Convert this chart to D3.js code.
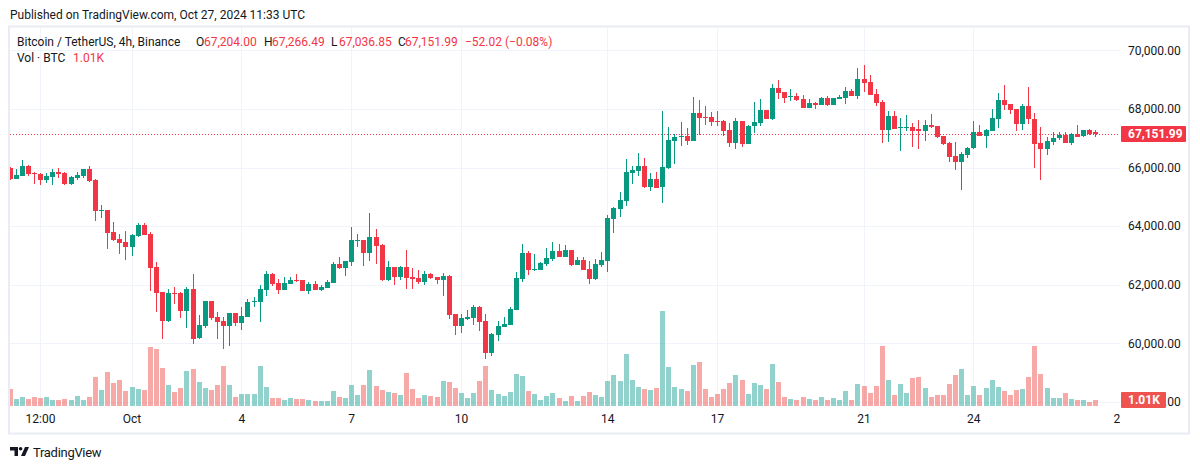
<!DOCTYPE html>
<html><head><meta charset="utf-8">
<script src="https://cdn.jsdelivr.net/npm/d3@7"></script>
<style>
html,body{margin:0;padding:0;background:#fff;}
svg{display:block;font-family:Roboto,"Noto Sans",sans-serif;}
</style></head><body>
<svg id="c" width="1200" height="469"></svg>
<script>
// ---- data (4h candles, BTC/USDT Binance) ----
const startTime = "2024-09-27T16:00:00Z";
const opens = [65983,65618,65720,66051,65812,65780,65584,65686,65846,65812,65447,65652,65720,65949,65584,64526,64549,63800,63560,63457,
63297,63672,64037,63730,62604,61750,60772,61728,61717,61113,61864,60170,60601,61454,60897,60760,60600,61034,60703,60908,
61420,61420,61830,62366,62058,61830,62035,62160,62160,61796,62024,61830,61897,62070,62710,62580,62785,63510,63526,63092,
63628,63365,62160,62604,62263,62604,62263,62228,62092,62366,62263,62160,62300,61000,60600,60840,60874,61250,60772,59680,
60300,60570,60640,61150,62200,63080,62500,62510,62720,62890,63150,62960,63190,62680,62840,62550,62200,62680,62820,64250,
64590,64870,65820,65890,66050,65340,65600,65340,65980,66920,67040,67075,66920,67860,67740,67740,67600,67600,67290,66850,
67590,66810,67400,67530,67960,67640,68710,68570,68400,68440,68340,68040,68200,68140,68370,68140,68340,68380,68610,68450,
69020,68920,68500,68230,67290,67760,67360,67360,67380,67300,67260,67450,67420,67080,66850,66390,66200,66440,66650,67210,
67090,67260,67660,68300,68170,68000,67500,68100,67650,66850,66640,66880,66990,67110,66850,67140,67080,67280,67204.00];
const highs = [66020,65949,66256,66100,65830,65812,65800,65950,65983,65830,65710,65846,65960,66051,65618,64731,64560,64140,63730,63833,
63730,64106,64106,63800,62775,61760,61864,61920,61750,61920,62380,60966,61460,61460,61068,60897,61040,61040,61239,61510,
61580,61990,62468,62400,62195,62263,62263,62366,62170,62092,62126,61990,62160,62780,62945,62810,63970,63730,63540,64450,
63900,63400,62810,62620,62650,63184,62570,62510,62468,62400,62270,62400,62330,61010,61010,61136,61300,61270,61010,60340,
60770,60910,61250,62440,63390,63150,63050,62770,63250,63460,63390,63360,63200,62960,62960,62810,62880,63120,64380,64650,
65160,66290,66050,66500,66320,65810,65850,67930,67380,67140,67550,67350,68400,68300,68100,67900,67930,67610,67530,67690,
67600,67450,68240,68340,67970,68850,69000,68580,68680,68540,68470,68340,68240,68410,68440,68380,68470,68750,68680,69400,
69500,69160,68680,68300,67930,67930,67690,67790,67520,67620,67620,67830,67430,67090,66860,66880,66540,66710,67590,67450,
67310,68000,68540,68810,68180,68010,68170,68750,67860,67380,67050,67210,67210,67210,67180,67450,67290,67310,67266.49];
const lows = [65590,65600,65720,65720,65450,65413,65480,65413,65652,65413,65413,65584,65652,65515,64185,64290,63219,63500,63060,62853,
62990,63640,63690,61796,61080,60160,60738,61350,60874,60533,59986,60135,60533,60806,60135,59816,59918,60600,60465,60900,
61250,60738,61625,61966,61694,61830,62035,62100,61790,61694,61820,61796,61890,62060,62545,62300,62650,63300,62650,62820,
62720,62140,62140,62000,62160,61853,61853,62035,61990,62195,62035,61625,60840,60300,60360,60800,60624,60430,59454,59577,
60090,60560,60630,61140,62100,62340,62480,62500,62650,62820,62950,62950,62650,62670,62500,62035,62170,62620,62440,63780,
64320,64670,65450,65720,65310,65210,65300,64800,65950,66130,66750,66780,66900,67120,67460,67430,67400,67090,66710,66640,
66710,66800,67190,67430,67640,67630,68340,68200,68270,68280,68030,68030,67990,68120,68110,68130,68330,68180,68440,68350,
68580,68470,68110,66850,66880,67300,66570,67260,66710,66640,66920,67350,67020,66780,66200,65925,65240,66340,66640,67070,
66680,67250,67360,67970,67840,67260,67290,67500,65990,65580,66440,66780,66950,66840,66780,67040,67050,67120,67036.85];
const closes = [65618,65744,66051,65790,65780,65584,65710,65846,65790,65447,65675,65755,65949,65550,64526,64549,63776,63536,63433,63297,
63696,64037,63706,62580,61728,60772,61717,61694,61113,61864,60157,60624,61454,60874,60738,60600,61034,60703,60931,61410,
61454,61853,62366,62035,61830,62058,62160,62126,61796,62024,61830,61922,62092,62710,62570,62800,63526,63526,63092,63628,
63330,62160,62604,62263,62604,62228,62195,62092,62366,62228,62160,62300,60980,60600,60870,60900,61250,60738,59680,60330,
60600,60670,61180,62230,63080,62510,62530,62740,62910,63150,62960,63190,62680,62840,62510,62200,62700,62840,64280,64620,
64890,65850,65910,66050,65340,65600,65310,66020,66940,67040,67075,66920,67860,67700,67700,67560,67560,67260,66850,67590,
66810,67420,67550,67960,67670,68710,68540,68370,68440,68300,68040,68200,68140,68370,68140,68370,68400,68610,68450,69020,
68880,68480,68210,67290,67760,67320,67390,67390,67260,67260,67450,67380,67050,66810,66370,66200,66460,66680,67210,67090,
67280,67690,68300,68130,67970,67500,68100,67650,66810,66640,66910,67010,67110,66850,67140,67050,67280,67160,67151.99];
const volumes = [2860,1180,1510,1180,1510,1340,1510,1010,1010,1180,1010,1680,1010,1510,4870,2690,5710,3860,4370,2520,
3190,2860,2690,9910,9580,6380,3530,2350,3020,5880,6220,4030,3020,2690,3530,6720,3530,1510,2020,2020,
2020,6720,3190,1340,1340,1010,1340,1180,1180,1010,840,840,840,2520,1510,1340,3530,1850,3530,6050,
3360,2690,2350,2180,1850,5540,2860,1340,1850,1680,1510,4200,4030,3020,2180,1340,2180,4200,6720,2690,
2020,1680,2350,5380,5040,2520,2020,1010,1680,2180,1340,840,1680,840,1680,2350,1850,1510,4200,5210,
4200,8740,4370,3190,2860,2690,3020,15960,6550,3190,2860,2520,6890,7390,2860,1510,2020,2860,3860,5210,
4370,2020,3860,3530,2860,7060,4030,1510,1180,1010,1510,1180,1010,1510,1010,1340,1010,2520,1010,3700,
3360,2180,3360,10080,4370,1850,3700,2180,4700,4870,3020,1510,1850,1850,3700,5210,6220,1850,3360,1850,
3020,4370,3190,2520,1850,2690,2860,4870,10080,5380,3020,1340,1340,2180,1180,1010,1010,670,1010];
const priceTicks = [58000,60000,62000,64000,66000,68000,70000];
const timeTickDates = ["2024-09-28T12:00:00Z","2024-10-01T00:00:00Z","2024-10-04T00:00:00Z","2024-10-07T00:00:00Z","2024-10-10T00:00:00Z","2024-10-14T00:00:00Z","2024-10-17T00:00:00Z","2024-10-21T00:00:00Z","2024-10-24T00:00:00Z","2024-10-28T00:00:00Z"];
const timeTickLabels = ["12:00","Oct","4","7","10","14","17","21","24","28"];
const lastPrice = 67151.99;
const lastVolumeLabel = "1.01K";
const legendTitle = "Bitcoin / TetherUS, 4h, Binance";
const legendOHLC = [["O","67,204.00"],["H","67,266.49"],["L","67,036.85"],["C","67,151.99"]];
const legendChange = "\u221252.02 (\u22120.08%)";

// ---- drawing ----
const UP = "#089981", DOWN = "#F23645";
const VUP = "rgba(38,166,154,0.5)", VDOWN = "rgba(239,83,80,0.5)";
const TXT = "#131722", GRID = "#f0f3fa";
const svg = d3.select("#c");
const PL = 10, PR = 1120, PT = 27, PB = 407;

const t0 = new Date(startTime);
const H4 = 4 * 3600 * 1000;
const data = opens.map((o, i) => ({t: new Date(+t0 + i * H4), o, h: highs[i], l: lows[i], c: closes[i], v: volumes[i]}));

const x = d3.scaleUtc().domain([t0, new Date("2024-10-28T00:00:00Z")]).range([9.5, 1119.7]);
const y = d3.scaleLinear().domain([60000, 70000]).range([343.3, 50.3]);
const yv = d3.scaleLinear().domain([0, 16000]).range([406, 311]);

// frame
svg.append("rect").attr("x", 9).attr("y", 26.5).attr("width", 1180).attr("height", 407)
  .attr("fill", "none").attr("stroke", "#e9ecf2").attr("stroke-width", 2);

const defs = svg.append("defs");
defs.append("clipPath").attr("id", "plot")
  .append("rect").attr("x", PL).attr("y", PT).attr("width", PR - PL).attr("height", PB - PT);
defs.append("clipPath").attr("id", "taxis")
  .append("rect").attr("x", PL).attr("y", PB).attr("width", PR - PL).attr("height", 26);

const tickDates = timeTickDates.map(d => new Date(d));

// grid
const grid = svg.append("g").attr("clip-path", "url(#plot)");
grid.append("g").attr("transform", `translate(${PR},0)`)
  .call(d3.axisLeft(y).tickValues(priceTicks).tickSize(PR - PL).tickFormat(""))
  .call(g => g.select(".domain").remove())
  .call(g => g.selectAll("line").attr("stroke", GRID).attr("shape-rendering", "crispEdges"));
grid.append("g").attr("transform", `translate(0,${PB})`)
  .call(d3.axisTop(x).tickValues(tickDates).tickSize(PB - PT).tickFormat(""))
  .call(g => g.select(".domain").remove())
  .call(g => g.selectAll("line").attr("stroke", GRID).attr("shape-rendering", "crispEdges"));

const plot = svg.append("g").attr("clip-path", "url(#plot)");

// volume
plot.append("g").selectAll("rect").data(data).join("rect")
  .attr("x", d => Math.round(x(d.t)) - 2)
  .attr("width", 5)
  .attr("y", d => Math.round(yv(d.v)))
  .attr("height", d => 406 - Math.round(yv(d.v)))
  .attr("fill", d => d.c >= d.o ? VUP : VDOWN);

// last price dotted line
plot.append("line").attr("x1", PL).attr("x2", PR)
  .attr("y1", Math.round(y(lastPrice)) + 0.5).attr("y2", Math.round(y(lastPrice)) + 0.5)
  .attr("stroke", DOWN).attr("stroke-dasharray", "1,2");

// candles
const cg = plot.append("g").attr("shape-rendering", "crispEdges");
cg.selectAll("rect.w").data(data).join("rect").attr("class", "w")
  .attr("x", d => Math.round(x(d.t)))
  .attr("width", 1)
  .attr("y", d => y(d.h))
  .attr("height", d => Math.max(1, y(d.l) - y(d.h)))
  .attr("fill", d => d.c >= d.o ? UP : DOWN);
cg.selectAll("rect.b").data(data).join("rect").attr("class", "b")
  .attr("x", d => Math.round(x(d.t)) - 2)
  .attr("width", 5)
  .attr("y", d => Math.round(y(Math.max(d.o, d.c))))
  .attr("height", d => Math.max(1, Math.round(y(Math.min(d.o, d.c))) - Math.round(y(Math.max(d.o, d.c)))))
  .attr("fill", d => d.c >= d.o ? UP : DOWN);

// price axis
const fmt = d3.format(",.2f");
const vy = Math.round(yv(volumes[volumes.length - 1]));
const pax = svg.append("g").attr("transform", `translate(1122,0)`)
  .call(d3.axisRight(y).tickValues(priceTicks).tickSize(0).tickPadding(6).tickFormat(fmt))
  .call(g => g.select(".domain").remove())
  .call(g => g.selectAll("text").attr("fill", TXT).attr("font-size", 12).attr("font-family", "Roboto"));
// the lowest tick label sits under the volume label: only its tail is visible
pax.selectAll(".tick text").filter(d => d === 58000).each(function () {
  const full = fmt(58000);
  const head = full.slice(0, full.length - 3);
  const el = d3.select(this).text(head);
  const w = this.getComputedTextLength();
  el.attr("x", 6 + w).text(full.slice(full.length - 3));
});

// time axis
svg.append("g").attr("clip-path", "url(#taxis)").append("g").attr("transform", `translate(0,${PB})`)
  .call(d3.axisBottom(x).tickValues(tickDates).tickSize(0).tickPadding(7).tickFormat((d, i) => timeTickLabels[i]))
  .call(g => g.select(".domain").remove())
  .call(g => g.selectAll("text").attr("fill", TXT).attr("font-size", 12).attr("font-family", "Roboto"));

// last price label
const ly = Math.round(y(lastPrice));
svg.append("rect").attr("x", 1121).attr("y", ly - 8).attr("width", 65).attr("height", 16).attr("rx", 1).attr("fill", DOWN);
svg.append("text").attr("x", 1128).attr("y", ly).attr("dominant-baseline", "central")
  .attr("fill", "#fff").attr("font-size", 12).attr("font-weight", "bold").text(fmt(lastPrice));
// volume label
svg.append("rect").attr("x", 1121).attr("y", vy - 8).attr("width", 45).attr("height", 16).attr("rx", 1).attr("fill", "#EF5350");
svg.append("text").attr("x", 1128).attr("y", vy).attr("dominant-baseline", "central")
  .attr("fill", "#fff").attr("font-size", 12).attr("font-weight", "bold").text(lastVolumeLabel);

// header
svg.append("text").attr("x", 10).attr("y", 15).attr("dominant-baseline", "central")
  .attr("fill", TXT).attr("font-size", 12).text("Published on TradingView.com, Oct 27, 2024 11:33 UTC");

const lg = svg.append("text").attr("y", 42).attr("dominant-baseline", "central").attr("font-size", 12);
lg.append("tspan").attr("x", 17).attr("fill", TXT).text(legendTitle);
const lx = [[196, 204], [264, 272], [331, 339], [398, 405]];
legendOHLC.forEach((p, i) => {
  lg.append("tspan").attr("x", lx[i][0]).attr("fill", TXT).text(p[0]);
  lg.append("tspan").attr("x", lx[i][1]).attr("fill", DOWN).text(p[1]);
});
lg.append("tspan").attr("x", 465).attr("fill", DOWN).text(legendChange);

const lv = svg.append("text").attr("y", 58).attr("dominant-baseline", "central").attr("font-size", 12);
lv.append("tspan").attr("x", 17).attr("fill", TXT).text("Vol \u00b7 BTC");
lv.append("tspan").attr("x", 73).attr("fill", DOWN).text(lastVolumeLabel);

// footer logo
const logo = svg.append("g").attr("fill", TXT);
logo.append("path").attr("d", "M10,447 H18 V456 H14.5 V450.5 H10 Z");
logo.append("circle").attr("cx", 20.6).attr("cy", 448.8).attr("r", 1.8);
logo.append("path").attr("d", "M21,456 L25,447 H29 L25,456 Z");
svg.append("text").attr("x", 33).attr("y", 452).attr("dominant-baseline", "central")
  .attr("fill", TXT).attr("font-size", 13).attr("letter-spacing", "-0.3").text("TradingView");
</script>
</body></html>
